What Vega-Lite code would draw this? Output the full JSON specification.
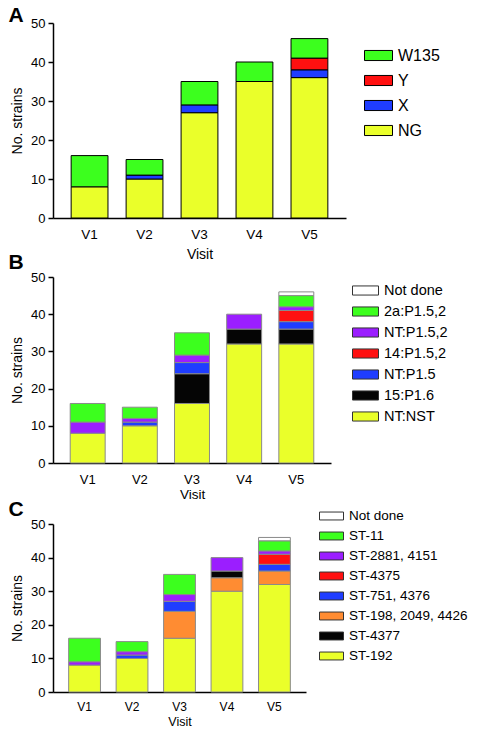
{
  "$schema": "https://vega.github.io/schema/vega-lite/v6.json",
  "padding": {"left": 8, "top": 5, "right": 0, "bottom": 0},
  "spacing": -10,
  "config": {
    "font": "Liberation Sans",
    "view": {"stroke": null},
    "axis": {"domainColor": "#000", "domainWidth": 1.5, "tickColor": "#000", "tickWidth": 1.5, "labelColor": "#000", "titleColor": "#000", "titleFontWeight": "normal", "grid": false},
    "title": {"fontSize": 21, "fontWeight": "bold", "anchor": "start", "frame": "bounds", "color": "#000", "baseline": "alphabetic"},
    "legend": {"title": null, "orient": "none", "padding": 0, "rowPadding": 0, "symbolStrokeWidth": 1, "labelColor": "#000", "labelOffset": 5, "symbolOpacity": 1}
  },
  "datasets": {
    "A": [
      {"visit": "V1", "type": "NG", "count": 8},
      {"visit": "V1", "type": "W135", "count": 8},
      {"visit": "V2", "type": "NG", "count": 10},
      {"visit": "V2", "type": "X", "count": 1},
      {"visit": "V2", "type": "W135", "count": 4},
      {"visit": "V3", "type": "NG", "count": 27},
      {"visit": "V3", "type": "X", "count": 2},
      {"visit": "V3", "type": "W135", "count": 6},
      {"visit": "V4", "type": "NG", "count": 35},
      {"visit": "V4", "type": "W135", "count": 5},
      {"visit": "V5", "type": "NG", "count": 36},
      {"visit": "V5", "type": "X", "count": 2},
      {"visit": "V5", "type": "Y", "count": 3},
      {"visit": "V5", "type": "W135", "count": 5}
    ],
    "B": [
      {"visit": "V1", "type": "NT:NST", "count": 8},
      {"visit": "V1", "type": "NT:P1.5,2", "count": 3},
      {"visit": "V1", "type": "2a:P1.5,2", "count": 5},
      {"visit": "V2", "type": "NT:NST", "count": 10},
      {"visit": "V2", "type": "NT:P1.5", "count": 1},
      {"visit": "V2", "type": "NT:P1.5,2", "count": 1},
      {"visit": "V2", "type": "2a:P1.5,2", "count": 3},
      {"visit": "V3", "type": "NT:NST", "count": 16},
      {"visit": "V3", "type": "15:P1.6", "count": 8},
      {"visit": "V3", "type": "NT:P1.5", "count": 3},
      {"visit": "V3", "type": "NT:P1.5,2", "count": 2},
      {"visit": "V3", "type": "2a:P1.5,2", "count": 6},
      {"visit": "V4", "type": "NT:NST", "count": 32},
      {"visit": "V4", "type": "15:P1.6", "count": 4},
      {"visit": "V4", "type": "NT:P1.5,2", "count": 4},
      {"visit": "V5", "type": "NT:NST", "count": 32},
      {"visit": "V5", "type": "15:P1.6", "count": 4},
      {"visit": "V5", "type": "NT:P1.5", "count": 2},
      {"visit": "V5", "type": "14:P1.5,2", "count": 3},
      {"visit": "V5", "type": "NT:P1.5,2", "count": 1},
      {"visit": "V5", "type": "2a:P1.5,2", "count": 3},
      {"visit": "V5", "type": "Not done", "count": 1}
    ],
    "C": [
      {"visit": "V1", "type": "ST-192", "count": 8},
      {"visit": "V1", "type": "ST-2881, 4151", "count": 1},
      {"visit": "V1", "type": "ST-11", "count": 7},
      {"visit": "V2", "type": "ST-192", "count": 10},
      {"visit": "V2", "type": "ST-751, 4376", "count": 1},
      {"visit": "V2", "type": "ST-2881, 4151", "count": 1},
      {"visit": "V2", "type": "ST-11", "count": 3},
      {"visit": "V3", "type": "ST-192", "count": 16},
      {"visit": "V3", "type": "ST-198, 2049, 4426", "count": 8},
      {"visit": "V3", "type": "ST-751, 4376", "count": 3},
      {"visit": "V3", "type": "ST-2881, 4151", "count": 2},
      {"visit": "V3", "type": "ST-11", "count": 6},
      {"visit": "V4", "type": "ST-192", "count": 30},
      {"visit": "V4", "type": "ST-198, 2049, 4426", "count": 4},
      {"visit": "V4", "type": "ST-4377", "count": 2},
      {"visit": "V4", "type": "ST-2881, 4151", "count": 4},
      {"visit": "V5", "type": "ST-192", "count": 32},
      {"visit": "V5", "type": "ST-198, 2049, 4426", "count": 4},
      {"visit": "V5", "type": "ST-751, 4376", "count": 2},
      {"visit": "V5", "type": "ST-4375", "count": 3},
      {"visit": "V5", "type": "ST-2881, 4151", "count": 1},
      {"visit": "V5", "type": "ST-11", "count": 3},
      {"visit": "V5", "type": "Not done", "count": 1}
    ]
  },
  "resolve": {"scale": {"color": "independent", "x": "independent", "y": "independent"}, "legend": {"color": "independent"}},
  "vconcat": [
    {
      "width": 293,
      "height": 195,
      "title": {"text": "A", "offset": -9, "dx": -2},
      "data": {"name": "A"},
      "transform": [{"window": [{"op": "row_number", "as": "rank"}]}],
      "mark": {"type": "bar", "stroke": "#000", "strokeWidth": 1},
      "encoding": {
        "x": {"field": "visit", "type": "nominal", "scale": {"paddingInner": 0.33, "paddingOuter": 0.33},
          "axis": {"title": "Visit", "labelAngle": 0, "ticks": false, "tickSize": 0, "labelFontSize": 13.5, "titleFontSize": 14, "labelPadding": 9, "titlePadding": 7}},
        "y": {"field": "count", "type": "quantitative", "stack": "zero", "scale": {"domain": [0, 50]},
          "axis": {"title": "No. strains", "values": [0, 10, 20, 30, 40, 50], "tickSize": 5, "labelFontSize": 13, "titleFontSize": 14, "labelPadding": 3, "titlePadding": 6}},
        "color": {"field": "type", "type": "nominal",
          "scale": {"domain": ["W135", "Y", "X", "NG"], "range": ["#3cff1e", "#ff1010", "#1f3dff", "#eaff2a"]},
          "legend": {"legendX": 311, "legendY": 20, "symbolType": "M-1,-0.36H1V0.36H-1Z", "symbolSize": 784, "symbolStrokeColor": "#000", "labelFontSize": 16, "clipHeight": 25}},
        "order": {"field": "rank", "type": "quantitative"}
      }
    },
    {
      "width": 278,
      "height": 186,
      "title": {"text": "B", "offset": -2, "dx": -2},
      "data": {"name": "B"},
      "transform": [{"window": [{"op": "row_number", "as": "rank"}]}],
      "mark": {"type": "bar", "stroke": "#8a8a8a", "strokeWidth": 1},
      "encoding": {
        "x": {"field": "visit", "type": "nominal", "scale": {"paddingInner": 0.33, "paddingOuter": 0.33},
          "axis": {"title": "Visit", "labelAngle": 0, "ticks": false, "tickSize": 0, "labelFontSize": 13, "titleFontSize": 13.5, "labelPadding": 10, "titlePadding": 1}},
        "y": {"field": "count", "type": "quantitative", "stack": "zero", "scale": {"domain": [0, 50]},
          "axis": {"title": "No. strains", "values": [0, 10, 20, 30, 40, 50], "tickSize": 5, "labelFontSize": 13, "titleFontSize": 14, "labelPadding": 3, "titlePadding": 6}},
        "color": {"field": "type", "type": "nominal",
          "scale": {"domain": ["Not done", "2a:P1.5,2", "NT:P1.5,2", "14:P1.5,2", "NT:P1.5", "15:P1.6", "NT:NST"],
            "range": ["#ffffff", "#3cff1e", "#9b1eff", "#ff1010", "#1f3dff", "#050505", "#eaff2a"]},
          "legend": {"legendX": 299, "legendY": 3, "symbolType": "M-1,-0.35H1V0.35H-1Z", "symbolSize": 676, "symbolStrokeColor": "#333", "labelFontSize": 14.5, "clipHeight": 21}},
        "order": {"field": "rank", "type": "quantitative"}
      }
    },
    {
      "width": 253,
      "height": 168,
      "title": {"text": "C", "offset": -29, "dx": -2},
      "data": {"name": "C"},
      "transform": [{"window": [{"op": "row_number", "as": "rank"}]}],
      "mark": {"type": "bar", "stroke": "#8a8a8a", "strokeWidth": 1},
      "encoding": {
        "x": {"field": "visit", "type": "nominal", "scale": {"paddingInner": 0.33, "paddingOuter": 0.33},
          "axis": {"title": "Visit", "labelAngle": 0, "ticks": false, "tickSize": 0, "labelFontSize": 12, "titleFontSize": 12.5, "labelPadding": 9, "titlePadding": 3}},
        "y": {"field": "count", "type": "quantitative", "stack": "zero", "scale": {"domain": [0, 50]},
          "axis": {"title": "No. strains", "values": [0, 10, 20, 30, 40, 50], "tickSize": 5, "labelFontSize": 13, "titleFontSize": 14, "labelPadding": 3, "titlePadding": 6}},
        "color": {"field": "type", "type": "nominal",
          "scale": {"domain": ["Not done", "ST-11", "ST-2881, 4151", "ST-4375", "ST-751, 4376", "ST-198, 2049, 4426", "ST-4377", "ST-192"],
            "range": ["#ffffff", "#3cff1e", "#9b1eff", "#ff1010", "#1f3dff", "#ff8c32", "#050505", "#eaff2a"]},
          "legend": {"legendX": 251, "legendY": -33, "padding": 15, "symbolType": "M-1,-0.33H1V0.33H-1Z", "symbolSize": 576, "symbolStrokeColor": "#333", "labelFontSize": 13.5, "clipHeight": 20}},
        "order": {"field": "rank", "type": "quantitative"}
      }
    }
  ]
}
